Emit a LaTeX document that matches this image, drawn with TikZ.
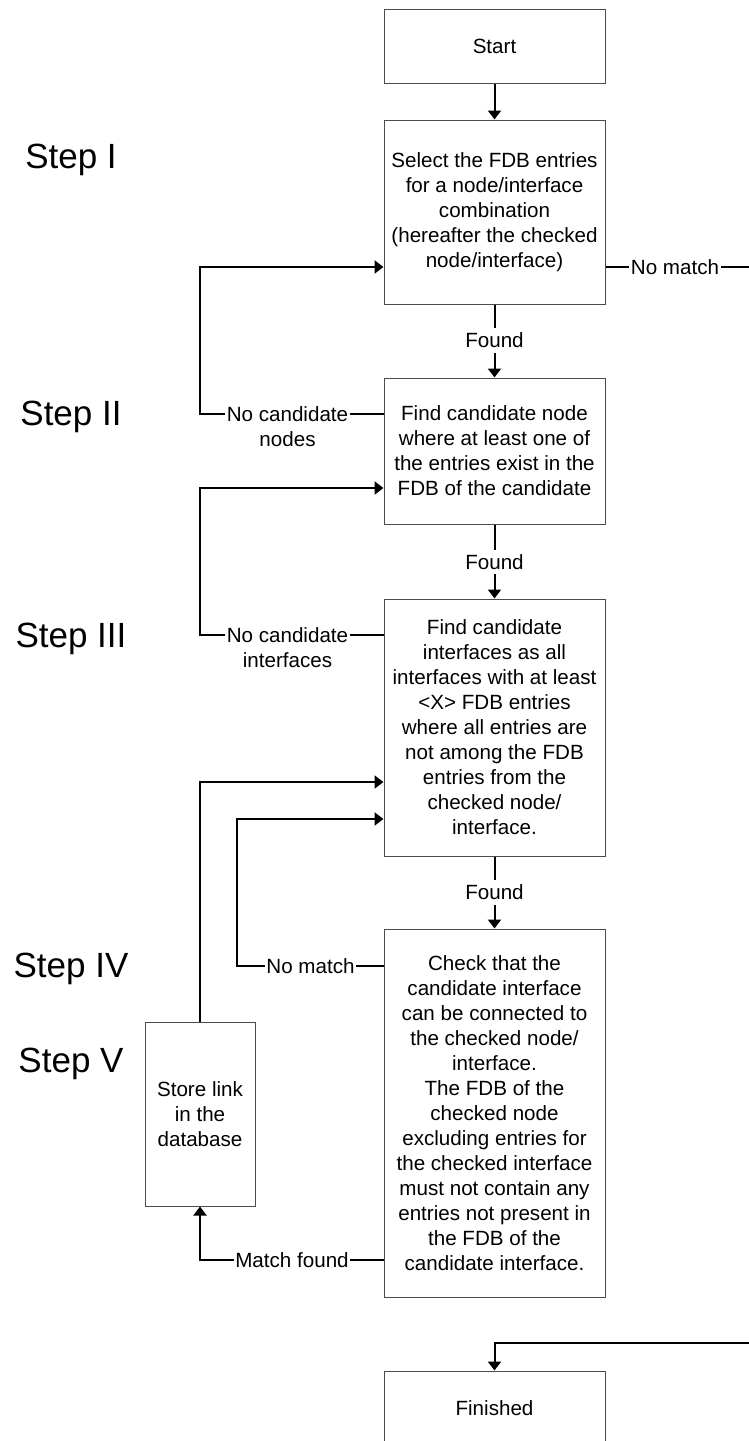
\documentclass[tikz,border=0pt]{standalone}
\usepackage{fontspec}
\setmainfont{Liberation Sans}
\usetikzlibrary{arrows.meta}
\begin{document}
\begin{tikzpicture}[x=1pt,y=-1pt,
  box/.style={draw=black!70, line width=1pt, minimum width=221pt, align=center,
    inner sep=0pt, font=\fontsize{20.6}{25}\selectfont},
  conn/.style={line width=2pt, black},
  arr/.style={conn, -{Triangle[length=9pt,width=13pt]}},
  lbl/.style={fill=white, inner xsep=1.5pt, inner ysep=4.5pt, align=center,
    font=\fontsize{20.6}{25}\selectfont},
  steplbl/.style={anchor=base, font=\fontsize{35}{40}\selectfont}]
\useasboundingbox (0,0) rectangle (748,1441);

% step captions
\node[steplbl] (st1) at (71,168) {Step I};
\node[steplbl] (st2) at (71,425) {Step II};
\node[steplbl] (st3) at (71,647) {Step III};
\node[steplbl] (st4) at (71,977) {Step IV};
\node[steplbl] (st5) at (71,1072) {Step V};

% process boxes
\node[box, minimum height=74pt] (start) at (494.5,46) {Start};
\node[box, minimum height=184pt] (sel) at (494.5,212)
  {Select the FDB entries\\for a node/interface\\combination\\(hereafter the checked\\node/interface)};
\node[box, minimum height=146pt] (cnode) at (494.5,451)
  {Find candidate node\\where at least one of\\the entries exist in the\\FDB of the candidate};
\node[box, minimum height=257pt] (cif) at (494.5,727.5)
  {Find candidate\\interfaces as all\\interfaces with at least\\<X> FDB entries\\where all entries are\\not among the FDB\\entries from the\\checked node/\\interface.};
\node[box, minimum height=368pt] (check) at (494.5,1113)
  {Check that the\\candidate interface\\can be connected to\\the checked node/\\interface.\\The FDB of the\\checked node\\excluding entries for\\the checked interface\\must not contain any\\entries not present in\\the FDB of the\\candidate interface.};
\node[box, minimum width=110pt, minimum height=184pt] (store) at (200,1114)
  {Store link\\in the\\database};
\node[box, minimum height=74pt] (fin) at (494.5,1408) {Finished};

% connector labels
\node[lbl] (f1) at (494.5,340.5) {Found};
\node[lbl] (f2) at (494.5,562) {Found};
\node[lbl] (f3) at (494.5,892.5) {Found};
\node[lbl] (nm1) at (675,267) {No match};
\node[lbl, anchor=north, inner ysep=0pt] (ncn) at (287.5,406.5) {No candidate\\nodes};
\node[lbl, anchor=north, inner ysep=0pt] (nci) at (287.5,627.5) {No candidate\\interfaces};
\node[lbl] (nm2) at (310.5,966) {No match};
\node[lbl] (mf) at (292,1260) {Match found};

% bend points
\coordinate (b1) at (200,414);
\coordinate (b2) at (200,267);
\coordinate (b3) at (200,635);
\coordinate (b4) at (200,488);
\coordinate (b5) at (200,782);
\coordinate (b6) at (237,966);
\coordinate (b7) at (237,819);
\coordinate (b8) at (200,1260);
\coordinate (ne) at (752,267);
\coordinate (se) at (752,1343);

% main flow
\draw[arr] (start) -- (sel);
\draw[conn] (sel) -- (f1);
\draw[arr] (f1) -- (cnode);
\draw[conn] (cnode) -- (f2);
\draw[arr] (f2) -- (cif);
\draw[conn] (cif) -- (f3);
\draw[arr] (f3) -- (check);

% exit to finished
\draw[conn] (sel.east |- nm1) -- (nm1);
\draw[arr] (nm1) -- (ne) -- (se) -| (fin.north);

% loops back
\draw[conn] (cnode.west |- b1) -- (ncn.east |- b1);
\draw[arr] (ncn.west |- b1) -- (b1) -- (b2) -- (sel.west |- b2);
\draw[conn] (cif.west |- b3) -- (nci.east |- b3);
\draw[arr] (nci.west |- b3) -- (b3) -- (b4) -- (cnode.west |- b4);
\draw[arr] (store.north) -- (b5) -- (cif.west |- b5);
\draw[conn] (check.west |- b6) -- (nm2);
\draw[arr] (nm2) -- (b6) -- (b7) -- (cif.west |- b7);
\draw[conn] (check.west |- b8) -- (mf);
\draw[arr] (mf) -- (b8) -- (store.south);
\end{tikzpicture}
\end{document}
